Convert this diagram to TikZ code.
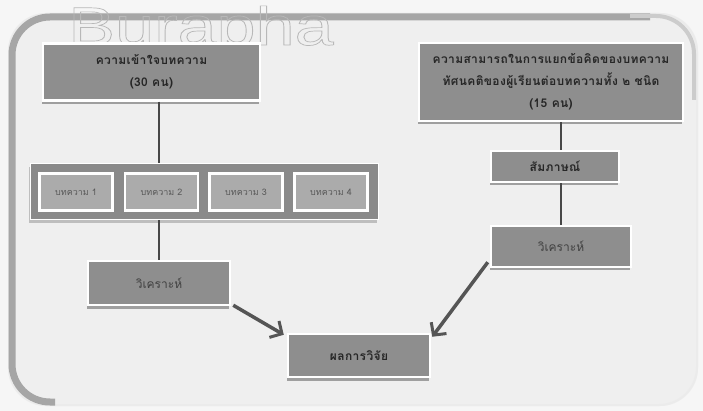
\documentclass[tikz,border=0pt]{standalone}
\usepackage{fontspec}
\newfontfamily\thaifont[Script=Thai]{Loma}
\setsansfont{Liberation Sans}
\usetikzlibrary{arrows.meta, shadows}

\definecolor{pagegray}{HTML}{F6F6F6}
\definecolor{panelgray}{HTML}{EFEFEF}
\definecolor{rimgray}{HTML}{A6A6A6}
\definecolor{boxgray}{HTML}{8E8E8E}
\definecolor{artgray}{HTML}{ABABAB}
\definecolor{linegray}{HTML}{474747}
\definecolor{arrowgray}{HTML}{555555}
\definecolor{inkgray}{HTML}{262626}
\definecolor{markgray}{HTML}{B8B8B8}

\tikzset{
  box/.style={draw=white, line width=2.5pt, fill=boxgray, text=inkgray,
    align=center, inner sep=0pt,
    font=\thaifont\bfseries\fontsize{12}{22}\selectfont\addfontfeature{LetterSpace=3},
    drop shadow={shadow xshift=-1.5pt, shadow yshift=-3.5pt, fill=black!45, opacity=0.8}},
  plainbox/.style={box, font=\thaifont\fontsize{12}{22}\selectfont, text=black!75},
  artbox/.style={draw=white, line width=2.5pt, fill=artgray, text=black!65,
    inner sep=0pt, minimum width=73pt, minimum height=37pt,
    font=\thaifont\fontsize{9}{11}\selectfont},
  link/.style={linegray, line width=2.8pt},
  flow/.style={arrowgray, line width=3.5pt,
    -{Straight Barb[length=9pt, width=19pt, line width=3pt]}}
}

\begin{document}
\begin{tikzpicture}[x=1pt, y=-1pt]

    % Page and rounded panel
    \useasboundingbox (0,0) rectangle (703,411);
    \fill[pagegray] (0,0) rectangle (703,411);
    \fill[panelgray, rounded corners=38pt] (8,13) rectangle (698,406);
    \draw[black!8, line width=2pt, rounded corners=38pt] (9,14) rectangle (697,405);
    \draw[rimgray, line width=7pt, rounded corners=38pt] (55,402) -- (12,402) -- (12,17) -- (650,17);
    \draw[black!20, line width=4pt, rounded corners=38pt] (630,16) -- (694,16) -- (694,100);

    % Watermark, behind the boxes
    \node[anchor=base west, inner sep=0pt, text=markgray, xscale=1.3,
        font=\sffamily\fontsize{54}{54}\selectfont] (mark) at (68,45)
        {\special{pdf:literal direct 0.7 w 1 Tr}Burapha\special{pdf:literal direct 0 Tr}};

    % Left branch
    \node[box, minimum width=217pt, minimum height=57pt] (comp) at (151.5,72)
        {ความเข้าใจบทความ\\(30 คน)};
    \node[fill=boxgray!97!black, minimum width=348pt, minimum height=56pt,
        inner sep=0pt, draw=white, line width=1pt,
        drop shadow={shadow xshift=-1.5pt, shadow yshift=-3pt, fill=black!30, opacity=0.8}]
        (arts) at (204,192) {};
    \foreach \i/\x in {1/76, 2/161.5, 3/246, 4/331}
        \node[artbox] (art\i) at (\x,192) {บทความ \i};
    \node[plainbox, minimum width=142pt, minimum height=44pt] (anaL) at (159,283)
        {วิเคราะห์};

    % Right branch
    \node[box, minimum width=264pt, minimum height=78pt] (ability) at (551,82)
        {ความสามารถในการแยกข้อคิดของบทความ\\ทัศนคติของผู้เรียนต่อบทความทั้ง ๒ ชนิด\\(15 คน)};
    \node[box, minimum width=128pt, minimum height=31pt] (talk) at (555,166.5)
        {สัมภาษณ์};
    \node[plainbox, minimum width=140pt, minimum height=41pt] (anaR) at (561,246.5)
        {วิเคราะห์};

    % Result
    \node[box, minimum width=142pt, minimum height=43pt] (result) at (359,355.5)
        {ผลการวิจัย};

    % Connectors
    \draw[link] (comp.south -| anaL.north) -- (arts.north -| anaL.north);
    \draw[link] (arts.south -| anaL.north) -- (anaL.north);
    \draw[link] (ability.south -| anaR.north) -- (talk.north -| anaR.north);
    \draw[link] (talk.south -| anaR.north) -- (anaR.north);
    \draw[flow] ([shift={(2pt,1pt)}]anaL.south east) -- ([shift={(-3pt,-2pt)}]result.north west);
    \draw[flow] ([shift={(-2pt,6pt)}]anaR.south west) -- ([shift={(1pt,-4pt)}]result.north east);

\end{tikzpicture}
\end{document}
